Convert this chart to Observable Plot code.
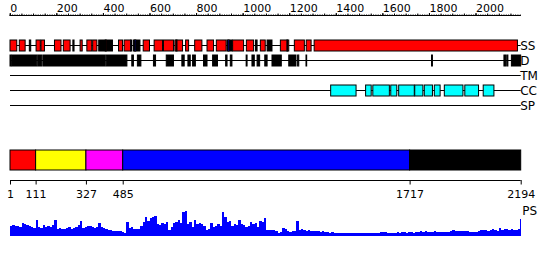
<!DOCTYPE html>
<html><head><meta charset="utf-8">
<script src="https://cdn.jsdelivr.net/npm/d3@7"></script>
<script src="https://cdn.jsdelivr.net/npm/@observablehq/plot@0.6"></script>
<style>
body{margin:0;background:#fff;}
#chart{position:relative;width:550px;height:260px;overflow:hidden;background:#fff;}
#chart svg{position:absolute;left:0;}
</style></head><body><div id="chart"></div>
<script>
const seqLength = 2194;
const rulerLabels = [0, 200, 400, 600, 800, 1000, 1200, 1400, 1600, 1800, 2000];
const trackNames = ["SS", "D", "TM", "CC", "SP"];

// Secondary structure segments (H = helix red, E = black, B = blue)
const ssStart = [1, 41, 84, 113, 134, 192, 230, 271, 302, 331, 356, 382, 410, 467, 491, 520, 531, 536, 573, 620, 660, 709, 714, 755, 794, 847, 887, 933, 937, 957, 1016, 1055, 1076, 1105, 1162, 1190, 1222, 1273, 1307];
const ssEnd   = [30, 66, 90, 131, 149, 220, 259, 276, 311, 352, 374, 441, 414, 484, 519, 524, 559, 541, 600, 656, 703, 742, 718, 768, 825, 875, 929, 955, 942, 1004, 1047, 1062, 1097, 1126, 1198, 1193, 1265, 1294, 2180];
const ssType  = ["H", "H", "E", "H", "H", "H", "H", "E", "H", "H", "H", "E", "H", "H", "H", "B", "E", "B", "H", "H", "H", "H", "B", "H", "H", "H", "H", "E", "B", "H", "H", "E", "H", "E", "H", "B", "H", "H", "H"];

// Disorder segments
const dStart = [1, 8, 120, 142, 414, 524, 548, 617, 672, 739, 765, 785, 832, 871, 927, 947, 1015, 1040, 1062, 1095, 1126, 1198, 1236, 1272, 1811, 2122, 2134, 2154];
const dEnd   = [5, 116, 137, 410, 503, 531, 563, 626, 703, 749, 775, 797, 847, 892, 933, 954, 1019, 1050, 1073, 1105, 1166, 1229, 1241, 1275, 1815, 2129, 2139, 2194];

// Coiled-coil segments
const ccStart = [1378, 1528, 1559, 1636, 1670, 1739, 1780, 1823, 1866, 1954, 2033];
const ccEnd   = [1487, 1552, 1630, 1662, 1737, 1774, 1815, 1848, 1946, 2013, 2079];

// Domains
const domStart = [1, 111, 327, 485, 1717];
const domEnd   = [111, 327, 485, 1717, 2194];
const domColor = ["#ff0000", "#ffff00", "#ff00ff", "#0000ff", "#000000"];
const domTicks = [1, 111, 327, 485, 1717, 2194];

// PS profile, one value per 10-residue bin
const psBin = 10;
const psValues = [
10,11,10,10,9,13,12,11,10,9,
8,16,9,8,11,9,10,9,11,16,
7,8,7,7,8,9,7,8,9,11,
15,8,9,10,10,9,8,9,13,9,
8,7,6,6,5,5,5,5,4,3,
14,8,9,7,7,7,10,14,19,15,
18,19,20,12,11,13,12,14,6,9,
13,14,16,13,24,25,12,14,9,16,
12,13,12,10,6,7,13,9,10,12,
10,24,19,14,15,10,12,11,16,12,
11,9,10,14,12,13,9,15,14,18,
6,6,6,6,5,3,4,8,7,5,
4,5,5,15,6,7,6,5,6,5,
5,5,5,4,5,4,4,3,4,3,
3,3,3,3,3,3,3,3,3,3,
3,3,3,3,3,3,3,3,3,4,
4,4,3,3,3,3,4,3,4,4,
3,4,4,3,4,4,5,4,5,4,
4,4,5,4,4,4,4,4,4,5,
6,5,5,5,5,5,5,4,4,4,
4,5,6,6,6,5,6,7,6,5,
8,6,7,7,6,7,6,6,7,17
];

const ssColors = {H: "#ff0000", E: "#000000", B: "#0000ff"};
const font = "DejaVu Sans, sans-serif";
const common = {
  width: 550, marginLeft: 10, marginRight: 29.3,
  x: {domain: [1, seqLength]},
  style: {fontFamily: font, background: "transparent", overflow: "visible"}
};
const chart = document.getElementById("chart");
function place(svg, top) { svg.style.top = top + "px"; chart.appendChild(svg); }

// Ruler
place(Plot.plot({
  ...common, height: 16, marginTop: 15, marginBottom: 1,
  y: {domain: [0, 1], axis: null},
  marks: [
    Plot.ruleY([0], {x1: 0, x2: seqLength, stroke: "black"}),
    Plot.axisX(d3.range(0, seqLength + 1, 10), {anchor: "top", tickSize: 1.5, tickFormat: () => ""}),
    Plot.axisX(d3.range(0, seqLength + 1, 50), {anchor: "top", tickSize: 2.5, tickFormat: () => ""}),
    Plot.axisX(rulerLabels, {anchor: "top", tickSize: 3, tickPadding: 0.5, textAnchor: "start", fontSize: 11, tickFormat: d => String(d)})
  ]
}), 0);

// Tracks
const ssData = ssStart.map((s, i) => ({track: "SS", x1: s, x2: ssEnd[i], fill: ssColors[ssType[i]]}));
const dData = dStart.map((s, i) => ({track: "D", x1: s, x2: dEnd[i]}));
const ccData = ccStart.map((s, i) => ({track: "CC", x1: s, x2: ccEnd[i]}));
place(Plot.plot({
  ...common, height: 95, marginTop: 0, marginBottom: 0,
  x: {domain: [1, seqLength], axis: null},
  y: {type: "band", domain: trackNames, range: [18, 93], paddingInner: 4/15, paddingOuter: 2/15, axis: null},
  marks: [
    Plot.barX(trackNames, {y: d => d, x1: 1, x2: seqLength, fill: "black", insetTop: 5, insetBottom: 5}),
    Plot.barX(ssData, {y: "track", x1: "x1", x2: "x2", fill: "fill", stroke: "black", strokeWidth: 1}),
    Plot.barX(dData, {y: "track", x1: "x1", x2: "x2", fill: "black", stroke: "black", strokeWidth: 1}),
    Plot.barX(ccData, {y: "track", x1: "x1", x2: "x2", fill: "#00ffff", stroke: "black", strokeWidth: 1}),
    Plot.text(trackNames, {x: seqLength, y: d => d, text: d => d, textAnchor: "start", dx: -1, fontSize: 12, fill: "black"})
  ]
}), 20);

// Domain bar
const domData = domStart.map((s, i) => ({x1: s, x2: domEnd[i], fill: domColor[i]}));
place(Plot.plot({
  ...common, height: 31, marginTop: 10, marginBottom: 1,
  x: {domain: [1, seqLength], axis: null},
  marks: [
    Plot.barX(domData, {x1: "x1", x2: "x2", fill: "fill", stroke: "black", strokeWidth: 1})
  ]
}), 140);

// Domain axis
place(Plot.plot({
  ...common, height: 32, marginTop: 0, marginBottom: 22,
  y: {domain: [0, 1], axis: null},
  marks: [
    Plot.ruleY([0], {x1: 1, x2: seqLength, stroke: "black"}),
    Plot.axisX(domTicks, {anchor: "bottom", tickSize: 4.5, tickPadding: 5, fontSize: 11, tickFormat: d => String(d)})
  ]
}), 170);

// PS profile
const psData = psValues.map((v, i) => ({x1: i * psBin + 1, x2: Math.min((i + 1) * psBin + 1, seqLength), v}));
place(Plot.plot({
  ...common, height: 40, marginTop: 11, marginBottom: 4,
  x: {domain: [1, seqLength], axis: null},
  y: {domain: [0, 25], axis: null},
  marks: [
    Plot.rect(psData, {x1: "x1", x2: "x2", y1: 0, y2: "v", fill: "#0000ff", shapeRendering: "crispEdges"}),
    Plot.text(["PS"], {x: seqLength, y: 25, text: d => d, textAnchor: "start", dx: 1, lineAnchor: "middle", fontSize: 12, fill: "black"})
  ]
}), 200);
</script></body></html>
